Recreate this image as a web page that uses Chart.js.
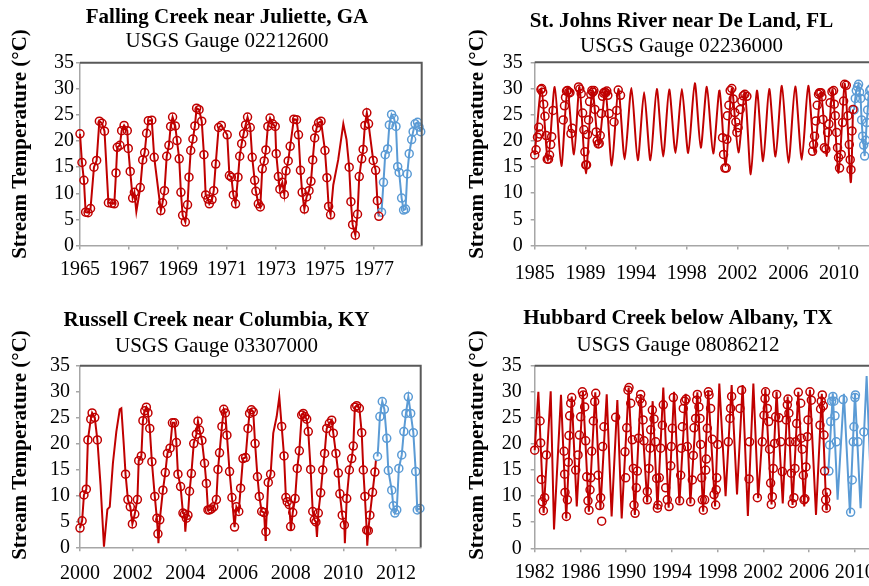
<!DOCTYPE html>
<html lang="en">
<head>
<meta charset="UTF-8">
<title>Stream temperature, four USGS gauges</title>
<script src="https://cdn.jsdelivr.net/npm/chart.js"></script>
<style>
  html, body { margin: 0; padding: 0; background: #fff; }
  body { width: 869px; height: 586px; overflow: hidden; position: relative; }
  canvas { position: absolute; }
</style>
</head>
<body>
<canvas id="ga" width="454" height="295" style="left:0;top:0"></canvas>
<canvas id="fl" width="495" height="295" style="left:434px;top:0"></canvas>
<canvas id="ky" width="433" height="291" style="left:0;top:295px"></canvas>
<canvas id="tx" width="488" height="291" style="left:434px;top:295px"></canvas>
<script>
// --- Falling Creek near Juliette, GA (02212600) ---
const gaObsYear = [
  1965.00,1965.08,1965.16,1965.23,1965.33,1965.43,1965.57,1965.68,1965.79,1965.90,
  1966.00,1966.16,1966.30,1966.40,1966.47,1966.52,1966.63,1966.70,1966.80,1966.93,1966.97,
  1967.05,1967.15,1967.22,1967.46,1967.56,1967.64,1967.72,1967.79,1967.93,
  1968.03,1968.30,1968.37,1968.45,1968.54,1968.63,1968.70,1968.78,1968.89,1968.96,
  1969.05,1969.12,1969.19,1969.30,1969.39,1969.45,1969.52,1969.61,1969.69,1969.76,1969.86,1969.97,
  1970.06,1970.13,1970.22,1970.28,1970.39,1970.46,1970.54,1970.66,1970.77,
  1971.01,1971.10,1971.18,1971.26,1971.35,1971.45,1971.52,1971.60,1971.68,1971.76,1971.84,1971.95,
  1972.03,1972.13,1972.18,1972.28,1972.36,1972.44,1972.52,1972.59,1972.67,1972.76,1972.86,1972.97,
  1973.01,1973.10,1973.16,1973.26,1973.34,1973.41,1973.50,1973.58,1973.73,1973.84,1973.92,
  1974.00,1974.07,1974.16,1974.25,1974.35,1974.43,1974.50,1974.58,1974.66,1974.74,1974.84,
  1975.00,1975.08,1975.15,1975.23,1975.99,
  1976.06,1976.13,1976.24,1976.33,1976.40,1976.50,1976.56,1976.63,1976.71,1976.78,1976.97,
  1977.07,1977.14,1977.20];
const gaObsTemp = [
  21.4,15.9,12.5,6.4,6.3,7.1,15.0,16.3,23.8,23.4,
  21.9,8.2,8.1,8.0,13.9,18.8,19.2,22.0,23.0,22.0,18.6,
  14.2,9.1,10.2,11.1,16.4,17.8,21.5,23.9,24.0,
  16.9,6.7,8.2,10.5,17.1,19.2,22.8,24.6,22.9,20.1,
  16.6,10.2,5.8,4.5,7.8,13.1,18.2,20.4,22.9,26.3,26.0,23.8,
  17.4,9.7,8.9,8.0,8.8,10.5,15.6,22.6,23.0,
  21.2,13.4,13.1,9.7,8.0,13.1,17.1,19.5,21.4,23.1,24.6,22.6,
  16.9,12.5,10.4,8.0,7.4,14.7,16.2,18.3,22.8,24.4,23.3,22.8,
  17.6,13.2,10.8,12.1,9.8,14.3,16.2,19.0,24.2,24.1,21.2,
  14.4,10.2,7.0,9.3,10.5,12.3,16.4,20.6,22.5,23.5,23.8,
  18.2,13.0,7.5,5.9,15.0,
  8.4,4.0,2.0,6.0,13.2,16.6,18.4,23.0,25.4,23.3,16.3,
  14.4,8.6,5.6];
const gaFillYear = [1967.30, 1975.34, 1975.54, 1975.75, 1975.88];
const gaFillTemp = [6.5, 11.6, 16.4, 23.3, 20.3];
const gaProjYear = [1977.31,1977.39,1977.46,1977.56,1977.63,1977.72,1977.82,1977.90,1977.97,1978.03,
  1978.13,1978.21,1978.29,1978.36,1978.44,1978.54,1978.60,1978.68,1978.78,1978.84,1978.91];
const gaProjTemp = [6.4,12.1,17.4,18.5,23.1,25.1,24.3,22.8,15.1,14.0,
  9.1,6.8,7.0,13.7,17.6,20.3,21.8,23.3,23.6,22.7,21.8];
const gaTickPos = [1965, 1967, 1969, 1971, 1973, 1975, 1977];
const gaTickText = ['1965', '1967', '1969', '1971', '1973', '1975', '1977'];

// --- St. Johns River near De Land, FL (02236000) ---
const flLineYear = [1985.75,
  1986.28,1986.80,1987.33,1987.85,1988.33,1988.85,1989.28,1989.78,1990.30,1990.80,
  1991.33,1991.83,1992.35,1992.85,1993.38,1993.88,1994.38,1994.88,1995.38,1995.88,
  1996.36,1996.86,1997.36,1997.86,1998.38,1998.85,1999.33,1999.83,2000.33,2000.82,
  2001.30,2001.82,2002.33,2002.80,2003.28,2003.77,2004.25,2004.75,2005.25,2005.77,
  2006.30,2006.82,2007.33,2007.82,2008.33,2008.80,2009.25,2009.72,2010.22,2010.68,
  2010.86];
const flLineTemp = [17.3,
  30.0,16.2,30.3,15.2,29.8,17.4,30.3,13.8,29.7,19.0,
  29.6,15.3,29.9,16.5,30.1,16.3,29.3,16.3,29.9,17.0,
  29.8,17.7,29.9,17.7,31.0,18.7,30.3,17.6,29.6,15.2,
  30.0,17.8,29.2,13.6,29.6,16.1,29.9,17.0,30.5,15.8,
  30.4,16.4,30.5,17.7,29.3,17.1,29.8,13.9,30.9,12.1,
  26.0];
const flObsYear = [
  1985.75,1985.86,1985.97,1986.07,1986.14,1986.24,1986.30,1986.38,1986.46,1986.56,1986.66,1986.74,1986.84,1986.92,
  1987.01,1987.09,1987.20,1988.00,1988.10,1988.18,1988.26,1988.34,1988.44,1988.53,1988.61,1988.71,
  1989.21,1989.31,1989.42,1989.53,1989.63,1989.71,1989.78,1989.84,1989.92,
  1990.00,1990.08,1990.18,1990.26,1990.34,1990.42,1990.50,1990.60,1990.68,1990.76,1990.84,1990.92,
  1991.00,1991.10,1991.18,1991.26,1991.36,1991.44,1991.52,1991.62,1992.01,1992.22,1992.34,1992.52,
  2000.57,2000.65,2000.75,2000.86,2000.91,2000.96,2001.07,2001.17,2001.30,2001.41,2001.54,2001.62,
  2001.70,2001.80,2001.96,2002.09,2002.20,2002.33,2002.49,
  2007.67,2007.75,2007.83,2007.93,2008.04,2008.14,2008.22,2008.33,2008.41,2008.49,2008.60,2008.72,
  2008.86,2008.96,2009.06,2009.20,2009.33,2009.38,2009.46,2009.57,2009.64,2009.72,2009.80,2009.93,
  2010.04,2010.12,2010.20,2010.33,2010.46,2010.57,2010.64,2010.70,2010.78,2010.86];
const flObsTemp = [
  17.3,18.3,20.7,22.6,21.3,29.8,30.0,29.3,27.0,24.7,21.0,16.5,16.5,17.3,
  19.3,20.8,25.8,24.0,26.7,28.3,29.5,29.6,29.3,29.2,21.4,22.4,
  30.3,29.9,29.0,25.3,22.1,17.9,15.4,15.4,21.2,
  24.0,27.5,28.9,29.6,29.3,29.6,26.0,21.7,20.0,19.4,19.5,21.0,
  25.2,28.5,29.1,29.3,29.2,29.5,28.7,25.2,23.6,25.8,29.7,28.7,
  20.6,17.4,14.8,14.8,20.3,24.8,26.8,29.6,30.0,28.0,25.4,23.6,
  21.6,22.5,26.0,27.6,28.6,28.9,28.5,
  18.0,19.3,20.9,23.8,26.8,28.9,29.2,29.2,28.4,24.1,18.7,18.4,
  21.6,23.2,27.3,29.4,29.6,27.0,24.8,21.6,18.7,16.8,14.8,17.4,
  23.5,27.6,30.8,30.6,24.8,19.3,16.4,14.5,21.9,26.0];
const flProjYear = [2010.95,2011.04,2011.12,2011.22,2011.30,2011.38,2011.46,2011.54,2011.62,2011.70,
  2011.78,2011.86,2011.94,2012.02,2012.10,2012.18,2012.26,2012.36,2012.46];
const flProjTemp = [25.9,28.1,29.6,30.3,30.8,29.3,28.1,24.0,20.9,19.2,
  17.1,20.1,23.5,25.9,28.5,29.6,29.9,28.0,25.0];
const flTickPos = [1985.75, 1989.75, 1993.75, 1997.75, 2001.75, 2005.75, 2009.75];
const flTickText = ['1985', '1989', '1994', '1998', '2002', '2006', '2010'];

// --- Russell Creek near Columbia, KY (03307000) ---
const kyObsYear = [
  2000.00,2000.08,2000.15,2000.24,2000.30,2000.41,2000.46,2000.56,2000.66,
  2001.73,2001.82,2001.91,2001.99,2002.08,2002.18,2002.23,2002.33,2002.39,2002.46,2002.52,2002.58,
  2002.65,2002.73,2002.84,2002.92,2002.96,2003.03,2003.15,2003.24,2003.32,2003.42,2003.51,2003.59,
  2003.66,2003.72,2003.82,2003.91,2003.97,2004.04,2004.10,2004.16,2004.23,2004.32,2004.42,2004.48,
  2004.54,2004.63,2004.73,2004.80,2004.86,2004.92,2004.99,2005.08,2005.18,2005.24,2005.30,2005.39,
  2005.46,2005.52,2005.58,2005.68,2005.77,2005.87,2005.94,2006.03,2006.10,2006.19,2006.29,2006.38,
  2006.44,2006.51,2006.58,2006.65,2006.74,2006.81,2006.90,2006.99,2007.06,2007.15,2007.24,
  2007.66,2007.75,2007.82,2007.87,2007.95,2008.00,2008.08,2008.17,2008.25,2008.33,2008.42,2008.48,
  2008.54,2008.61,2008.67,2008.76,2008.84,2008.90,2008.96,2009.05,2009.14,2009.22,2009.29,2009.37,
  2009.47,2009.56,2009.62,2009.72,2009.81,2009.87,2009.96,2010.04,2010.13,2010.23,2010.32,2010.38,
  2010.44,2010.51,2010.61,2010.70,2010.76,2010.82,2010.89,2010.95,2011.01,2011.11,2011.20];
const kyObsTemp = [
  3.7,5.1,10.1,11.2,20.7,24.7,25.9,25.0,20.7,
  14.1,9.2,7.8,4.5,6.4,9.2,16.7,17.6,24.4,26.3,27.0,25.9,
  22.9,16.5,9.8,5.6,2.6,5.3,11.0,14.4,18.1,19.1,24.0,24.0,
  20.2,14.1,11.7,6.6,6.4,5.6,6.2,10.8,14.2,20.0,21.8,24.3,
  22.6,20.6,16.2,12.3,7.2,7.2,7.4,7.8,9.2,15.0,18.2,23.3,
  26.6,25.9,21.6,14.6,9.6,3.9,7.8,6.9,11.4,17.1,17.3,22.9,
  25.8,26.5,26.1,20.0,13.6,9.8,6.9,6.7,3.0,12.5,14.1,
  23.3,17.6,9.6,8.8,8.2,4.0,6.7,9.4,15.2,18.6,25.5,25.8,
  25.2,24.7,22.3,15.0,6.9,5.3,4.9,6.6,10.5,14.9,18.1,22.9,
  23.9,24.5,22.0,18.1,14.3,10.3,6.2,4.3,9.4,14.9,17.1,19.5,
  27.0,27.3,26.8,22.1,14.9,9.8,3.3,3.2,6.2,10.6,14.5];
const kyFillYear = [2000.78,2000.91,2001.04,2001.13,2001.25,2001.38,2001.51,2001.57,2001.66,
  2002.98,2004.00,2007.05,2007.34,2007.47,2007.57,2008.01,2009.00,2010.06,2010.91,2011.24];
const kyFillTemp = [12.0,0.1,7.3,7.8,16.2,22.3,26.6,26.8,20.0,
  0.8,3.0,1.4,22.0,25.2,29.0,3.3,2.0,0.8,0.3,16.8];
const kyProjYear = [2011.30,2011.39,2011.48,2011.56,2011.65,2011.71,2011.84,2011.90,2011.96,2012.03,
  2012.11,2012.22,2012.30,2012.38,2012.47,2012.56,2012.66,2012.75,2012.81,2012.91];
const kyProjTemp = [17.5,25.2,28.1,26.6,21.0,14.8,11.0,8.0,6.6,7.2,
  15.2,17.8,22.3,25.8,29.0,25.8,22.1,14.6,7.2,7.5];
const kyProjFillYear = [2011.33];
const kyProjFillTemp = [19.7];
const kyTickPos = [2000, 2002, 2004, 2006, 2008, 2010, 2012];
const kyTickText = ['2000', '2002', '2004', '2006', '2008', '2010', '2012'];

// --- Hubbard Creek below Albany, TX (08086212) ---
const txLineYear = [1982.00,1982.32,1982.78,1983.40,1983.69,1984.30,1984.76,1985.24,1985.68,1986.22,
  1986.74,1987.30,1987.75,1988.30,1988.73,1989.23,1989.61,1990.22,1990.76,1991.27,
  1991.84,1992.32,1992.74,1993.25,1993.72,1994.19,1994.66,1995.21,1995.62,1996.23,
  1996.74,1997.18,1997.78,1998.15,1998.70,1999.23,1999.70,2000.19,2000.65,2001.13,
  2001.55,2002.18,2002.72,2003.16,2003.70,2004.13,2004.56,2005.06,2005.58,2006.08,
  2006.61,2007.12,2007.51,2007.56];
const txLineTemp = [18.8,30.0,6.8,30.1,3.6,29.4,5.7,29.1,8.0,30.0,
  7.0,29.9,7.5,29.5,6.1,28.4,5.7,30.8,6.4,29.5,
  8.8,28.2,7.5,30.8,7.8,30.0,8.6,29.6,8.6,29.9,
  7.0,30.3,8.0,31.6,10.0,31.3,10.3,31.3,6.2,31.6,
  9.6,30.5,8.4,30.0,8.6,29.1,8.3,30.0,8.0,30.4,
  6.4,29.6,7.5,10.7];
const txObsYear = [
  1982.00,1982.47,1982.52,1982.58,1982.67,1982.76,1982.87,1983.02,
  1984.57,1984.62,1984.65,1984.77,1984.86,1984.94,1985.00,1985.06,1985.15,1985.24,
  1985.59,1985.79,1985.91,1986.02,1986.17,1986.26,1986.37,1986.46,1986.55,1986.66,1986.75,1986.84,
  1986.90,1986.99,1987.13,1987.25,1987.34,1987.54,1987.69,1987.77,1987.86,1987.95,1988.06,
  1989.08,
  1989.90,1989.96,1990.05,1990.16,1990.25,1990.40,1990.54,1990.63,1990.69,1990.78,1990.89,1990.98,
  1991.08,1991.21,1991.27,1991.39,1991.48,1991.56,
  1991.85,1991.85,1992.00,1992.09,1992.15,1992.29,1992.44,1992.58,1992.67,1992.73,1992.79,1992.90,
  1993.02,1993.17,1993.25,
  1993.46,1993.60,1993.75,1993.90,1993.95,1994.04,1994.13,
  1994.68,1994.77,1994.83,1994.92,1995.00,1995.12,1995.24,1995.35,
  1995.64,1995.79,1995.88,1995.94,1996.08,1996.17,1996.23,1996.37,1996.46,1996.52,1996.61,1996.66,
  1996.75,1996.87,1996.96,1997.01,1997.10,1997.19,1997.25,1997.39,1997.54,
  1997.69,1997.83,1997.88,1997.93,1998.02,
  1998.94,1999.08,1999.14,1999.23,
  1999.96,2000.10,2000.75,2000.80,2001.48,
  2001.91,2002.06,2002.15,2002.20,2002.35,2002.47,2002.55,2002.64,2002.70,2002.79,2002.87,2002.99,
  2003.08,2003.17,2003.37,2003.52,2003.66,
  2004.01,2004.10,2004.16,2004.24,2004.33,2004.45,2004.54,2004.68,2004.77,2004.83,2004.92,2005.06,
  2005.27,2005.32,2005.41,2005.50,2005.56,2005.64,2005.73,2005.85,2005.91,2006.08,2006.20,
  2006.96,2007.01,2007.07,2007.16,2007.25,2007.31,2007.36,2007.45,2007.51,2007.54];
const txObsTemp = [
  18.8,24.4,20.2,13.2,8.9,7.2,9.7,17.9,
  18.6,14.2,10.7,6.1,9.3,16.5,21.6,25.4,27.8,28.9,
  15.0,17.9,21.7,25.2,30.0,29.4,27.1,20.6,13.7,9.1,7.3,11.2,
  13.5,18.6,24.4,28.1,29.7,14.0,8.2,9.7,5.2,19.5,23.3,
  25.1,
  18.5,13.5,23.1,30.3,30.8,27.8,20.8,15.3,8.3,6.7,11.6,14.8,
  21.1,28.6,29.5,27.8,24.6,20.6,
  10.9,9.3,15.3,19.2,22.7,26.5,24.8,20.4,13.4,7.7,8.3,13.5,
  19.2,23.6,27.5,
  11.6,9.3,8.0,15.8,19.5,23.0,28.9,
  9.1,14.0,19.2,23.3,26.8,28.2,28.6,19.5,
  8.9,13.1,17.8,23.1,24.9,28.4,29.5,27.1,24.9,19.9,13.5,9.3,
  7.3,9.3,15.0,17.1,23.0,30.0,29.4,26.8,20.9,
  10.3,8.3,11.2,13.5,19.9,
  20.4,24.9,26.8,29.1,
  26.8,30.3,13.3,20.4,9.7,
  20.4,25.5,28.7,30.0,26.8,24.3,19.0,12.5,8.4,9.9,15.3,20.1,
  25.2,29.5,25.0,20.4,14.7,
  24.6,27.5,28.6,25.9,20.4,14.4,8.6,9.7,15.3,20.4,23.9,29.9,
  27.8,21.1,19.0,14.0,9.3,9.5,15.6,21.4,24.6,30.0,28.4,
  23.6,26.7,28.2,29.4,27.3,21.7,14.8,9.3,7.7,10.7];
const txProjLineYear = [2007.70, 2008.08, 2008.50, 2009.05, 2009.58, 2010.02, 2010.51, 2011.04, 2011.45];
const txProjLineTemp = [15.0, 29.7, 9.3, 29.6, 6.7, 29.7, 7.7, 33.0, 10.0];
const txProjObsYear = [2007.74,2007.80,2007.89,2007.98,2008.09,2008.18,2008.27,2008.38,2008.98,
  2009.64,2009.78,2009.87,2009.93,2010.02,2010.06,2010.28,2010.80];
const txProjObsTemp = [14.8,19.8,24.3,28.2,29.1,28.2,25.4,20.4,28.5,
  6.9,13.1,20.4,23.3,28.9,29.4,20.4,22.3];
const txTickPos = [1982, 1986, 1990, 1994, 1998, 2002, 2006, 2010];
const txTickText = ['1982', '1986', '1990', '1994', '1998', '2002', '2006', '2010'];

const Y_TITLE = 'Stream Temperature (°C)';
const SERIF = '"Liberation Serif", "Times New Roman", serif';
const RED = '#C00000';
const BLUE = '#5B9BD5';
const AXIS = '#a6a6a6';

function xy(xs, ys) { return xs.map((x, i) => ({ x: x, y: ys[i] })); }
function joined(xa, ya, xb, yb) {
  return xy(xa, ya).concat(xy(xb, yb)).sort((p, q) => p.x - q.x);
}
function line(data, color, tension) {
  return { data, showLine: true, borderColor: color, borderWidth: 2, pointRadius: 0,
           pointHoverRadius: 0, tension: tension || 0, order: 2, clip: 8 };
}
function dots(data, color) {
  return { data, showLine: false, borderColor: color, backgroundColor: 'rgba(0,0,0,0)',
           pointRadius: 4, pointHoverRadius: 4, pointBorderWidth: 1.5, order: 1, clip: 8 };
}

// dark top/right frame of the plot box
const frame = {
  id: 'frame',
  afterDatasetsDraw(chart) {
    const { ctx, chartArea: a } = chart;
    ctx.save();
    ctx.strokeStyle = '#595959';
    ctx.lineWidth = 2;
    ctx.beginPath();
    ctx.moveTo(a.left, a.top);
    ctx.lineTo(a.right, a.top);
    ctx.lineTo(a.right, a.bottom);
    ctx.stroke();
    ctx.restore();
  }
};

// rotated y title, placed like the original (not centred on the plot box)
const sideTitle = {
  id: 'sideTitle',
  afterDraw(chart, args, opts) {
    const ctx = chart.ctx;
    ctx.save();
    ctx.translate(opts.x, opts.y);
    ctx.rotate(-Math.PI / 2);
    ctx.font = 'bold 21px ' + SERIF;
    ctx.fillStyle = '#000';
    ctx.textAlign = 'center';
    ctx.textBaseline = 'middle';
    ctx.fillText(opts.text, 0, 0);
    ctx.restore();
  }
};

function panel(id, c) {
  new Chart(document.getElementById(id), {
    type: 'scatter',
    data: { datasets: c.datasets },
    options: {
      responsive: false,
      animation: false,
      devicePixelRatio: 1,
      layout: { padding: 0 },
      plugins: {
        legend: { display: false },
        tooltip: { enabled: false },
        title: { display: true, text: c.title, color: '#000',
                 font: { family: SERIF, size: 21, weight: 'bold', lineHeight: 1 },
                 padding: { top: c.pad[0], bottom: 0 } },
        subtitle: { display: true, text: c.subtitle, color: '#000',
                    font: { family: SERIF, size: 21, weight: 'normal', lineHeight: 1 },
                    padding: { top: c.pad[1], bottom: c.pad[2] } },
        sideTitle: { text: Y_TITLE, x: c.yTitle[0], y: c.yTitle[1] }
      },
      scales: {
        x: {
          type: 'linear', min: c.xRange[0], max: c.xRange[1],
          afterBuildTicks: s => { s.ticks = c.tickPos.map(v => ({ value: v })); },
          afterFit: s => { s.height = c.xBox; },
          ticks: { autoSkip: false, maxRotation: 0, minRotation: 0, padding: c.xPad, color: '#000',
                   font: { family: SERIF, size: 20 }, callback: (v, i) => c.tickText[i] },
          grid: { drawOnChartArea: false, tickLength: 4, color: AXIS, lineWidth: 1.5 },
          border: { color: AXIS, width: 1.5 }
        },
        y: {
          min: 0, max: 35,
          afterFit: s => { s.width = c.yBox; },
          ticks: { stepSize: 5, autoSkip: false, padding: c.yPad, color: '#000',
                   font: { family: SERIF, size: 20 } },
          grid: { drawOnChartArea: false, tickLength: 4, color: AXIS, lineWidth: 1.5 },
          border: { color: AXIS, width: 1.5 }
        },
        yr: {
          position: 'right', display: true,
          grid: { display: false }, ticks: { display: false }, border: { display: false },
          afterFit: s => { s.width = c.rightGap; }
        }
      }
    },
    plugins: [frame, sideTitle]
  });
}

panel('ga', {
  title: 'Falling Creek near Juliette, GA', subtitle: 'USGS Gauge 02212600',
  pad: [7, 2.8, 10.9], xRange: [1965, 1978.95], tickPos: gaTickPos, tickText: gaTickText,
  xBox: 49.4, xPad: 8, yBox: 80, yPad: 2, rightGap: 32.3, yTitle: [20.5, 144],
  datasets: [
    dots(xy(gaObsYear, gaObsTemp), RED),
    dots(xy(gaProjYear, gaProjTemp), BLUE),
    line(joined(gaObsYear, gaObsTemp, gaFillYear, gaFillTemp), RED),
    line(xy(gaProjYear, gaProjTemp), BLUE)
  ]
});

panel('fl', {
  title: 'St. Johns River near De Land, FL', subtitle: 'USGS Gauge 02236000',
  pad: [11.2, 3.3, 5.8], xRange: [1985.75, 2012.73], tickPos: flTickPos, tickText: flTickText,
  xBox: 49.4, xPad: 12, yBox: 100.7, yPad: 8, rightGap: 52.3, yTitle: [43.3, 144],
  datasets: [
    dots(xy(flObsYear, flObsTemp), RED),
    dots(xy(flProjYear, flProjTemp), BLUE),
    line(xy(flLineYear, flLineTemp), RED, 0.25),
    line(xy(flProjYear, flProjTemp), BLUE)
  ]
});

panel('ky', {
  title: 'Russell Creek near Columbia, KY', subtitle: 'USGS Gauge 03307000',
  pad: [15, 4.5, 9.2], xRange: [2000, 2012.94], tickPos: kyTickPos, tickText: kyTickText,
  xBox: 38.7, xPad: 10, yBox: 80, yPad: 6, rightGap: 12.3, yTitle: [21, 150],
  datasets: [
    dots(xy(kyObsYear, kyObsTemp), RED),
    dots(xy(kyProjYear, kyProjTemp), BLUE),
    line(joined(kyObsYear, kyObsTemp, kyFillYear, kyFillTemp), RED),
    line(joined(kyProjYear, kyProjTemp, kyProjFillYear, kyProjFillTemp), BLUE)
  ]
});

panel('tx', {
  title: 'Hubbard Creek below Albany, TX', subtitle: 'USGS Gauge 08086212',
  pad: [13.5, 5.5, 9.7], xRange: [1982, 2011.92], tickPos: txTickPos, tickText: txTickText,
  xBox: 37.7, xPad: 8, yBox: 100.7, yPad: 9, rightGap: 45.3, yTitle: [43.3, 150],
  datasets: [
    dots(xy(txObsYear, txObsTemp), RED),
    dots(xy(txProjObsYear, txProjObsTemp), BLUE),
    line(xy(txLineYear, txLineTemp), RED),
    line(xy(txProjLineYear, txProjLineTemp), BLUE)
  ]
});
</script>
</body>
</html>
